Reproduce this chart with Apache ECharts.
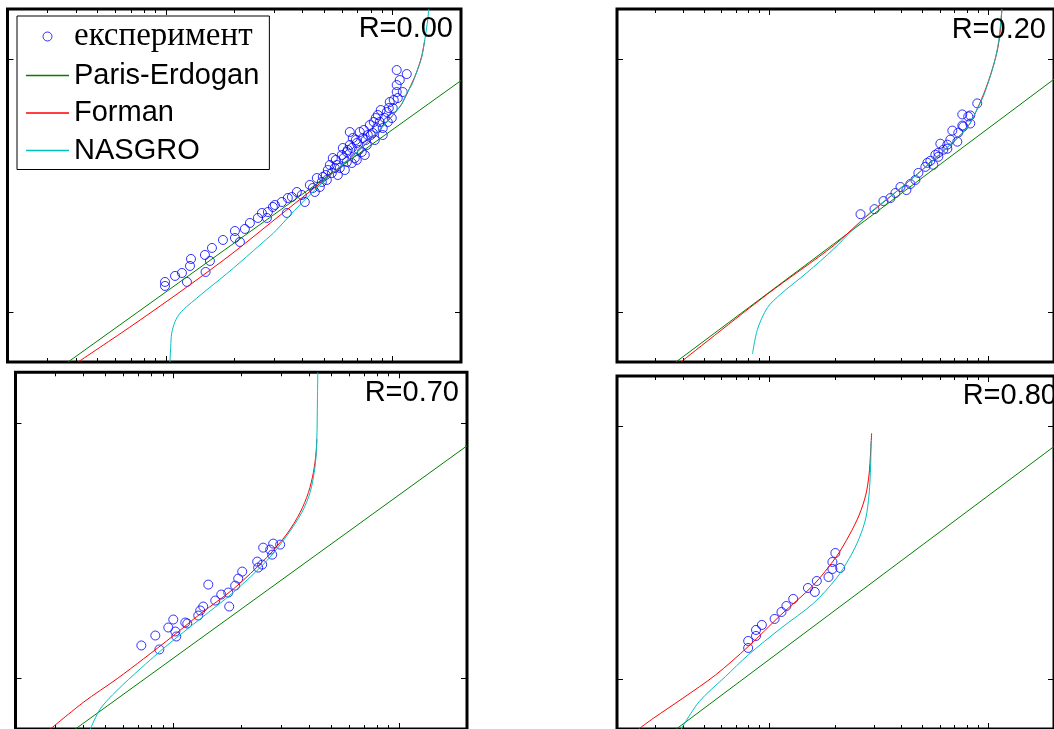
<!DOCTYPE html>
<html>
<head>
<meta charset="utf-8">
<script src="https://cdn.jsdelivr.net/npm/echarts@6/dist/echarts.min.js"></script>
<style>
html,body{margin:0;padding:0;background:#fff;}
#chart{width:1054px;height:729px;}
</style>
</head>
<body>
<div id="chart"></div>
<script>
// ---- axes (ΔK on x, da/dN ×1e-7 on y; labels are outside the visible picture) ----
const xRange = [2, 200];
const yRange = [0.634, 15.77];
const xMajorTicks = [10, 100];
const xMinorTicks = [3, 4, 5, 6, 7, 8, 9, 20, 30, 40, 50, 60, 70, 80, 90];
const yMajorTicks = [1, 10];

const seriesNames = ['експеримент', 'Paris-Erdogan', 'Forman', 'NASGRO'];
const panelLabels = ['R=0.00', 'R=0.20', 'R=0.70', 'R=0.80'];

// ---- panel R=0.00 ----
const expR000 = [[9.90,1.314],[9.90,1.267],[10.96,1.388],[11.76,1.426],[12.37,1.314],[12.89,1.620],[12.76,1.520],[14.85,1.680],[15.95,1.791],[14.95,1.439],[15.62,1.591],[17.83,1.926],[20.14,2.090],[20.14,1.961],[21.18,1.891],[22.28,2.129],[23.44,2.248],[25.43,2.353],[28.14,2.484],[27.86,2.353],[29.61,2.600],[32.43,2.721],[34.46,2.822],[34.12,2.462],[37.77,2.981],[39.72,2.901],[40.95,2.721],[43.09,3.177],[44.42,3.091],[46.26,3.385],[47.69,3.120],[49.16,3.417],[51.72,3.641],[53.86,3.543],[56.66,3.811],[57.24,3.479],[54.41,4.062],[59.60,4.174],[62.72,4.289],[64.65,4.572],[66.65,4.872],[69.41,4.656],[68.02,4.062],[71.56,5.146],[73.77,4.872],[76.83,4.572],[79.20,5.483],[81.65,5.099],[85.89,6.007],[87.65,5.636],[90.36,5.336],[94.11,6.173],[97.00,6.761],[99.00,5.845],[104.1,7.406],[105.2,7.012],[104.1,7.892],[110.7,7.406],[104.1,9.047],[115.3,8.724],[90.36,5.007],[73.03,4.289],[62.72,3.916],[55.52,3.708],[64.65,5.146],[61.46,3.641],[69.41,3.990],[75.28,4.174],[83.31,4.784],[85.02,5.336],[95.06,5.636],[100.0,6.402],[60.23,4.449],[51.20,3.324],[45.33,2.981],[35.91,2.848],[26.48,2.462],[30.21,2.648],[107.4,8.260],[77.60,5.007],[48.67,3.265],[50.68,3.479],[52.78,3.811],[56.09,3.990],[58.41,3.708],[60.83,4.062],[63.35,4.369],[65.98,4.449],[68.71,4.784],[70.83,4.369],[74.51,5.241],[76.04,4.784],[80.00,5.007],[82.48,5.636],[84.17,5.845],[88.54,6.287],[92.22,5.845],[96.03,6.402],[101.0,6.887],[65.98,3.881]];
const parisR000 = [[3.70,0.634],[200,8.22]];
const formanR000 = [[4.095,0.634],[7.155,0.8884],[12.37,1.2555],[19.73,1.711],[32.76,2.462],[54.41,3.543],[76.83,4.656],[107.35,6.462],[117.6,7.542],[127.5,8.884],[134.2,10.27],[138.4,11.89]];
const nasgroR000 = [[10.41,0.634],[10.49,0.7291],[10.60,0.8237],[10.96,0.9156],[11.53,0.9883],[12.34,1.049],[13.65,1.133],[15.11,1.222],[17.30,1.346],[19.79,1.488],[22.67,1.654],[25.95,1.840],[29.70,2.047],[33.43,2.289],[38.15,2.600],[45.33,3.035],[54.41,3.543],[76.83,4.656],[107.35,6.462],[115.3,7.338],[121.2,7.892],[127.5,8.884],[134.2,10.18],[138.4,11.89],[142.6,14.27],[144.1,15.77]];

// ---- panel R=0.20 ----
const expR020 = [[26.03,2.435],[30.16,2.549],[33.15,2.744],[35.68,2.820],[37.61,2.953],[39.65,3.119],[42.22,3.034],[44.03,3.206],[46.42,3.326],[47.90,3.546],[51.56,3.747],[52.66,3.887],[54.35,3.959],[57.28,4.183],[59.12,4.261],[60.37,4.627],[59.12,4.107],[62.31,4.380],[64.99,4.420],[64.99,4.585],[67.07,4.800],[68.49,5.212],[72.18,4.712],[72.95,5.118],[76.08,5.458],[76.08,6.039],[76.87,5.408],[81.03,5.929],[82.74,5.559],[82.74,5.983],[89.08,6.679],[56.09,3.817]];
const parisR020 = [[3.722,0.634],[200,8.323]];
const formanR020 = [[3.923,0.634],[9.761,1.176],[19.66,1.832],[26.95,2.340],[39.65,3.083],[56.26,3.997],[79.93,5.344],[90.31,6.516],[100.3,8.194],[109.6,10.63],[113.4,12.78],[115.5,15.77]];
const nasgroR020 = [[8.337,0.682],[8.787,0.853],[9.761,1.040],[11.22,1.176],[14.86,1.434],[19.66,1.777],[24.26,2.136],[28.92,2.480],[39.65,3.083],[56.26,3.997],[79.93,5.344],[90.31,6.516],[95.17,7.142],[105.7,9.404],[111.4,11.65],[115.5,15.77]];

// ---- panel R=0.70 ----
const expR070 = [[7.218,1.346],[8.325,1.472],[8.673,1.298],[9.504,1.582],[10.00,1.700],[10.21,1.526],[10.31,1.459],[11.30,1.655],[11.53,1.640],[12.90,1.762],[13.16,1.844],[13.57,1.911],[14.29,2.329],[15.34,2.017],[16.31,2.129],[17.52,2.168],[17.69,1.911],[18.80,2.308],[19.39,2.458],[20.20,2.618],[23.53,2.864],[23.77,2.714],[24.76,2.788],[25.01,3.249],[27.70,3.369],[27.42,3.050],[29.75,3.339],[26.87,3.191]];
const parisR070 = [[3.685,0.634],[200,8.133]];
const formanR070 = [[2.856,0.634],[4.010,0.8081],[5.635,0.997],[7.389,1.194],[10.03,1.472],[13.17,1.789],[18.48,2.241],[25.98,2.977],[31.85,3.674],[36.47,4.463],[39.69,5.342],[41.76,6.396],[42.92,7.656],[43.23,8.636]];
const nasgroR070 = [[4.292,0.634],[4.753,0.7613],[5.635,0.8977],[7.145,1.091],[9.378,1.346],[13.17,1.711],[18.48,2.174],[25.98,2.890],[31.85,3.619],[37.11,4.463],[40.38,5.342],[42.49,6.792],[43.23,8.636],[43.50,12.38],[43.68,15.77]];

// ---- panel R=0.80 ----
const expR080 = [[7.967,1.413],[7.967,1.326],[8.654,1.562],[8.654,1.479],[9.207,1.635],[10.53,1.727],[11.32,1.840],[11.92,1.943],[12.81,2.072],[14.96,2.289],[16.42,2.440],[16.08,2.208],[18.58,2.530],[19.36,2.721],[19.36,2.901],[19.97,3.148],[21.02,2.746]];
const parisR080 = [[3.738,0.634],[200,8.299]];
const formanR080 = [[2.514,0.634],[2.936,0.6994],[4.001,0.8389],[5.649,1.037],[7.967,1.342],[11.24,1.791],[15.86,2.353],[20.18,3.044],[23.15,3.708],[25.67,4.449],[27.51,5.337],[28.47,6.402],[28.97,7.914],[29.27,9.357]];
const nasgroR080 = [[3.936,0.634],[4.754,0.8135],[6.265,1.021],[7.967,1.244],[11.24,1.586],[15.86,1.992],[20.18,2.500],[23.15,3.000],[25.67,3.599],[27.51,4.317],[28.47,5.337],[28.97,7.012],[29.06,8.670]];

const panelData = [
  [expR000, parisR000, formanR000, nasgroR000],
  [expR020, parisR020, formanR020, nasgroR020],
  [expR070, parisR070, formanR070, nasgroR070],
  [expR080, parisR080, formanR080, nasgroR080]
];

// ---- layout & style ----
const seriesColors = ['#0000ff', '#008000', '#ff0000', '#00bfbf'];
const grids = [
  {left: 7.5, top: 9, width: 453.5, height: 353},
  {left: 617, top: 9, width: 438, height: 353},
  {left: 15.5, top: 372.3, width: 451.5, height: 357.7},
  {left: 617, top: 376, width: 446, height: 353.5}
];
const labelPos = [[453, 29], [1046, 30], [459, 393], [1057, 395.5]];
const lineIcon = 'path://M0 0H43V1.5H0Z';

const xAxes = [], yAxes = [], series = [];
grids.forEach((g, i) => {
  const mkX = (pos, ticks, len) => ({
    type: 'log', logBase: 10, gridIndex: i, position: pos, min: xRange[0], max: xRange[1],
    axisLine: {show: false, onZero: false}, axisLabel: {show: false}, splitLine: {show: false},
    axisTick: {show: true, inside: true, length: len, customValues: ticks, lineStyle: {color: '#000', width: 1}}
  });
  const mkY = (pos) => ({
    type: 'log', logBase: 10, gridIndex: i, position: pos, min: yRange[0], max: yRange[1],
    axisLine: {show: false, onZero: false}, axisLabel: {show: false}, splitLine: {show: false},
    axisTick: {show: true, inside: true, length: 6, customValues: yMajorTicks, lineStyle: {color: '#000', width: 1}}
  });
  xAxes.push(mkX('bottom', xMajorTicks, 6), mkX('bottom', xMinorTicks, 4), mkX('top', xMajorTicks, 6), mkX('top', xMinorTicks, 4));
  yAxes.push(mkY('left'), mkY('right'));
  const d = panelData[i];
  series.push({
    type: 'scatter', name: seriesNames[0], xAxisIndex: i * 4, yAxisIndex: i * 2, data: d[0],
    symbol: 'circle', symbolSize: 9,
    itemStyle: {color: 'rgba(0,0,0,0)', borderColor: seriesColors[0], borderWidth: 1}
  });
  for (let k = 1; k < 4; k++) {
    series.push({
      type: 'line', name: seriesNames[k], xAxisIndex: i * 4, yAxisIndex: i * 2, data: d[k],
      symbol: 'none', smooth: k === 1 ? false : 0.3,
      lineStyle: {color: seriesColors[k], width: 1},
      itemStyle: {color: seriesColors[k]}
    });
  }
});

const chart = echarts.init(document.getElementById('chart'), null, {renderer: 'canvas'});
chart.setOption({
  animation: false,
  backgroundColor: '#fff',
  grid: grids.map(g => Object.assign({show: true, borderColor: '#000', borderWidth: 3, backgroundColor: 'transparent', containLabel: false}, g)),
  xAxis: xAxes,
  yAxis: yAxes,
  series: series,
  legend: {
    orient: 'vertical', left: 17, top: 16, itemWidth: 43, itemHeight: 9, itemGap: 7.5,
    padding: [4, 10, 4, 9], borderColor: '#000', borderWidth: 1, backgroundColor: '#fff',
    selectedMode: false,
    textStyle: {fontFamily: 'Liberation Sans', fontSize: 29, color: '#000', lineHeight: 30},
    data: [
      {name: seriesNames[0], icon: 'circle', itemStyle: {color: 'rgba(0,0,0,0)', borderColor: seriesColors[0], borderWidth: 1},
       textStyle: {fontFamily: 'Liberation Serif', fontSize: 33, lineHeight: 30}},
      {name: seriesNames[1], icon: lineIcon, itemStyle: {color: seriesColors[1], borderColor: seriesColors[1], borderWidth: 0}},
      {name: seriesNames[2], icon: lineIcon, itemStyle: {color: seriesColors[2], borderColor: seriesColors[2], borderWidth: 0}},
      {name: seriesNames[3], icon: lineIcon, itemStyle: {color: seriesColors[3], borderColor: seriesColors[3], borderWidth: 0}}
    ]
  },
  graphic: panelLabels.map((t, i) => ({
    type: 'text', x: labelPos[i][0], y: labelPos[i][1], z: 100,
    style: {text: t, fill: '#000', font: '29px "Liberation Sans"', align: 'right', verticalAlign: 'middle'}
  }))
});
</script>
</body>
</html>
